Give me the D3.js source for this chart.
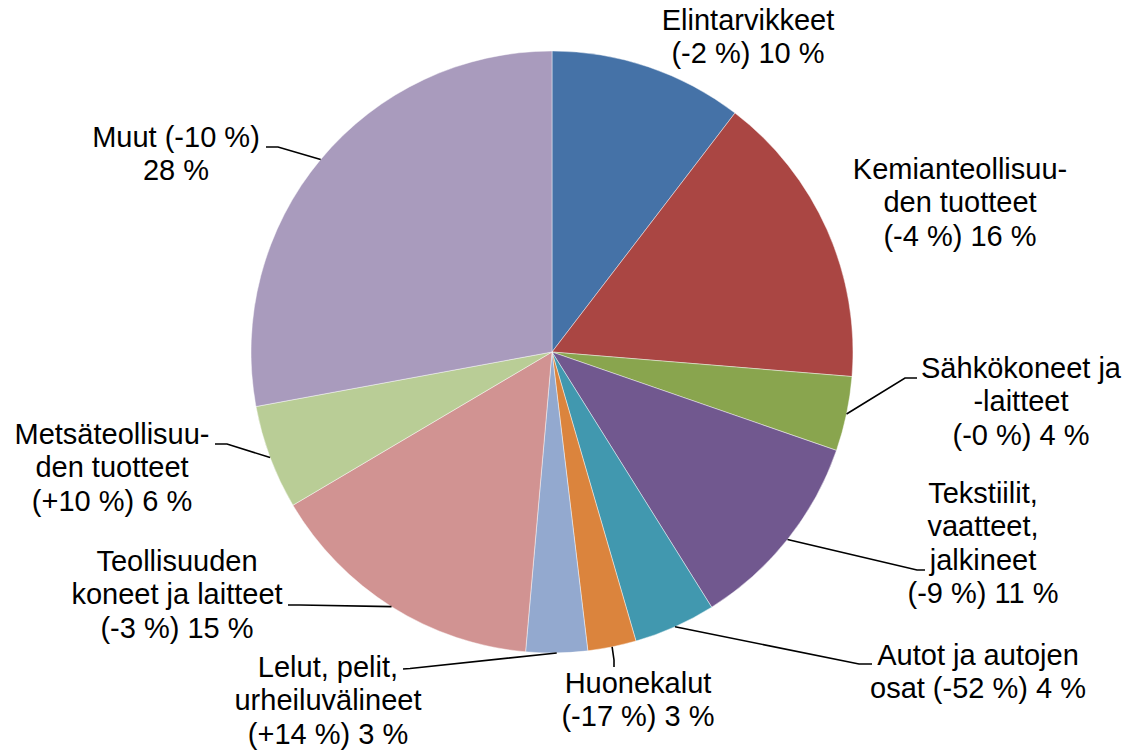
<!DOCTYPE html>
<html>
<head>
<meta charset="utf-8">
<script src="https://cdn.jsdelivr.net/npm/d3@7"></script>
<style>
  html, body { margin: 0; padding: 0; background: #fff; }
  svg { display: block; }
</style>
</head>
<body>
<svg id="chart" width="1128" height="750"></svg>
<script>
// Product groups, their share of the total (%) and the change on the previous year (%)
const categories = [
  "Elintarvikkeet",
  "Kemianteollisuuden tuotteet",
  "Sähkökoneet ja -laitteet",
  "Tekstiilit, vaatteet, jalkineet",
  "Autot ja autojen osat",
  "Huonekalut",
  "Lelut, pelit, urheiluvälineet",
  "Teollisuuden koneet ja laitteet",
  "Metsäteollisuuden tuotteet",
  "Muut"
];
const shares  = [10.4, 15.9, 4.0, 10.8, 4.4, 2.6, 3.3, 15.1, 5.6, 27.9];
const changes = ["-2", "-4", "-0", "-9", "-52", "-17", "+14", "-3", "+10", "-10"];

const colors = [
  "#4572A7", "#AA4643", "#89A54E", "#71588F", "#4198AF",
  "#DB843D", "#93A9CF", "#D19392", "#B9CD96", "#A99BBD"
];

// Label placement: wrapped lines ({c} = change, {s} = share), anchor of the first baseline,
// and the bend/end points of the leader line (null = no leader)
const labelLayout = [
  { lines: ["Elintarvikkeet", "({c} %) {s} %"], x: 748, y: 30, leader: null },
  { lines: ["Kemianteollisuu-", "den tuotteet", "({c} %) {s} %"], x: 960, y: 179, leader: null },
  { lines: ["Sähkökoneet ja", "-laitteet", "({c} %) {s} %"], x: 1021, y: 378, leader: [[905, 378], [917, 378]] },
  { lines: ["Tekstiilit,", "vaatteet,", "jalkineet", "({c} %) {s} %"], x: 983, y: 503, leader: [[917, 570], [925, 570]] },
  { lines: ["Autot ja autojen", "osat ({c} %) {s} %"], x: 978, y: 665, leader: [[859, 664], [872, 664]] },
  { lines: ["Huonekalut", "({c} %) {s} %"], x: 638, y: 693, leader: [[614, 660], [614, 667]] },
  { lines: ["Lelut, pelit,", "urheiluvälineet", "({c} %) {s} %"], x: 328, y: 677, leader: [[410, 668.5], [403, 669]] },
  { lines: ["Teollisuuden", "koneet ja laitteet", "({c} %) {s} %"], x: 177, y: 571, leader: [[300, 605], [288, 605]] },
  { lines: ["Metsäteollisuu-", "den tuotteet", "({c} %) {s} %"], x: 112, y: 444, leader: [[227, 444], [215, 444]] },
  { lines: ["Muut ({c} %)", "{s} %"], x: 176, y: 147, leader: [[278, 147], [266, 147]] }
];

const cx = 552, cy = 352, radius = 301;
const fontSize = 29, lineHeight = 33.3;

const svg = d3.select("#chart");
const g = svg.append("g").attr("transform", `translate(${cx},${cy})`);

const pie = d3.pie().sort(null).value(d => d);
const arcs = pie(shares);
const arc = d3.arc().innerRadius(0).outerRadius(radius);

g.selectAll("path.slice")
  .data(arcs)
  .join("path")
  .attr("class", "slice")
  .attr("d", arc)
  .attr("fill", (d, i) => colors[i])
  .attr("stroke", "#ffffff")
  .attr("stroke-opacity", 0.55)
  .attr("stroke-width", 0.8);

// Leader lines from the slice's mid-angle on the rim
const rimPoint = d => {
  const a = (d.startAngle + d.endAngle) / 2;
  return [cx + radius * Math.sin(a), cy - radius * Math.cos(a)];
};

const line = d3.line();
svg.selectAll("path.leader")
  .data(arcs.filter((d, i) => labelLayout[i].leader))
  .join("path")
  .attr("class", "leader")
  .attr("d", d => line([rimPoint(d), ...labelLayout[d.index].leader]))
  .attr("fill", "none")
  .attr("stroke", "#000")
  .attr("stroke-width", 1.6);

// Labels
const fmt = (tpl, i) => tpl
  .replace("{c}", changes[i])
  .replace("{s}", Math.round(shares[i]));

const labels = svg.selectAll("text.label")
  .data(arcs)
  .join("text")
  .attr("class", "label")
  .attr("x", d => labelLayout[d.index].x)
  .attr("y", d => labelLayout[d.index].y)
  .attr("text-anchor", "middle")
  .attr("font-family", "'Liberation Sans', Arial, sans-serif")
  .attr("font-size", fontSize)
  .attr("fill", "#000");

labels.selectAll("tspan")
  .data(d => labelLayout[d.index].lines.map(t => ({ t, i: d.index })))
  .join("tspan")
  .attr("x", function () { return d3.select(this.parentNode).attr("x"); })
  .attr("dy", (d, j) => j === 0 ? 0 : lineHeight)
  .text(d => fmt(d.t, d.i));
</script>
</body>
</html>
